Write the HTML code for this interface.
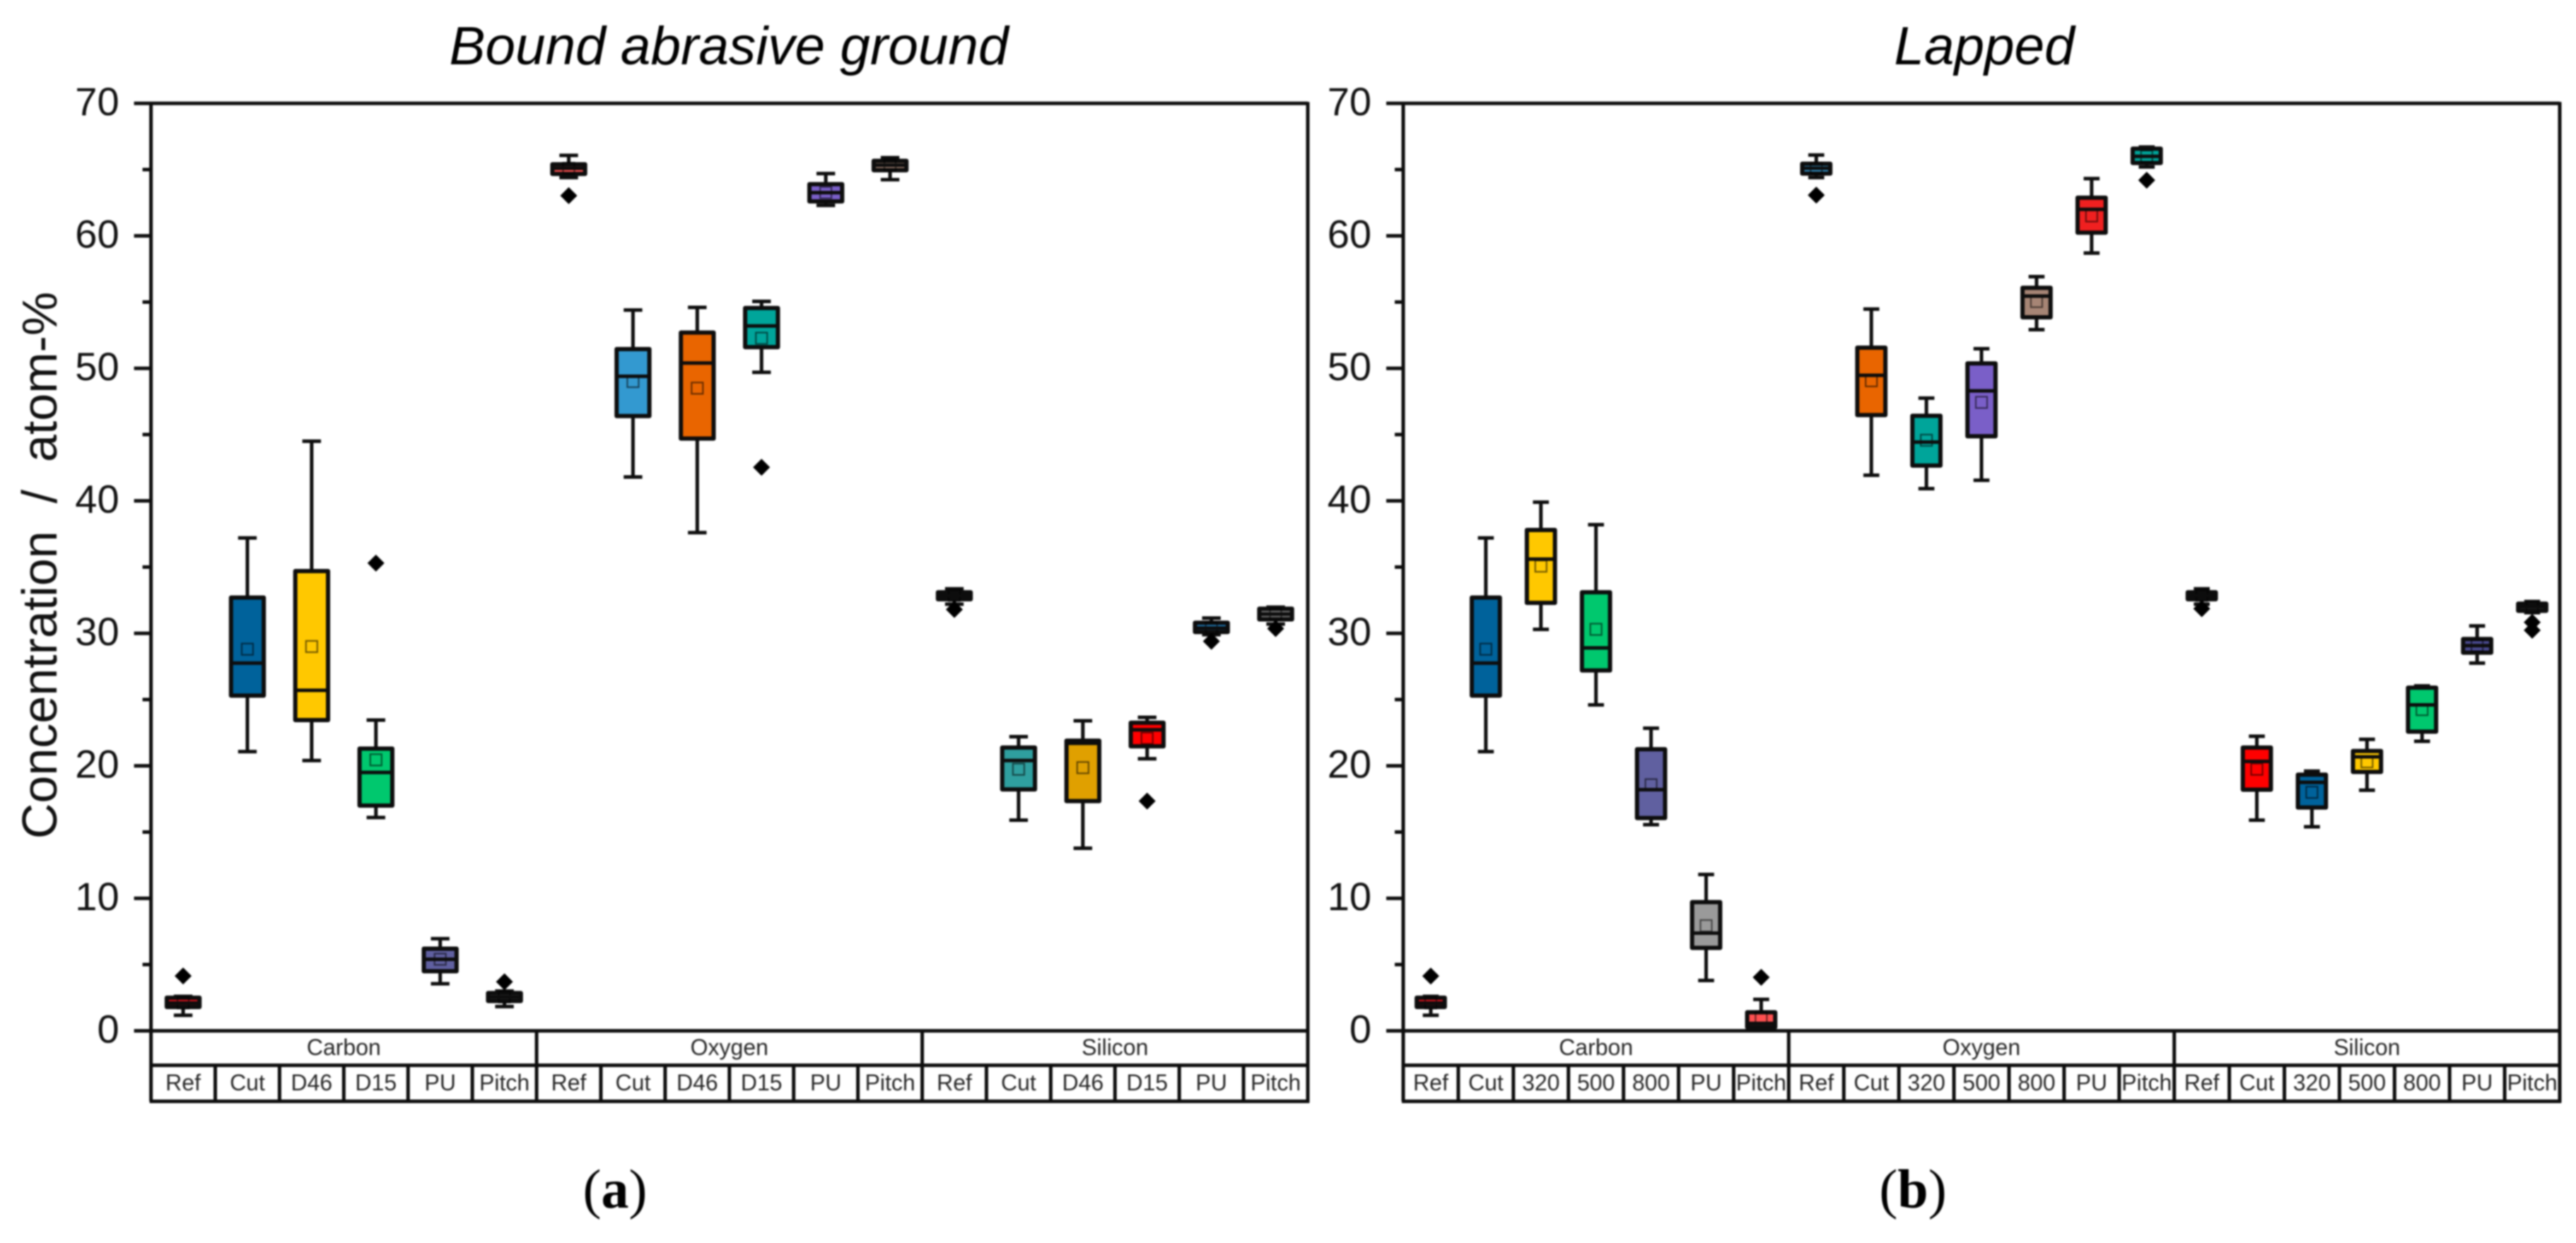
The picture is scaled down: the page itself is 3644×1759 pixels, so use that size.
<!DOCTYPE html>
<html lang="en">
<head>
<meta charset="utf-8">
<title>Concentration box plots</title>
<style>
html,body{margin:0;padding:0;background:#fff;width:3644px;height:1759px;overflow:hidden}
svg{display:block;position:absolute;left:0;top:0;filter:blur(1px)}
text{font-family:"Liberation Sans",sans-serif;fill:#111}
.tick{font-size:56px;text-anchor:end}
.cell{font-size:32px;text-anchor:middle;fill:#262626}
.title{font-size:76.5px;font-style:italic;text-anchor:middle;fill:#000}
.cap{font-family:"Liberation Serif",serif;font-size:78px;text-anchor:middle;fill:#000}
.cap tspan.b{font-weight:bold}
.ytitle{font-size:70px;white-space:pre;text-anchor:middle;fill:#111}
</style>
</head>
<body>
<svg id="figure" xmlns="http://www.w3.org/2000/svg" width="3644" height="1759" viewBox="0 0 3644 1759">
  <rect x="0" y="0" width="3644" height="1759" fill="#fff"/>
  <text class="title" x="1031" y="91">Bound abrasive ground</text>
  <text class="title" x="2807" y="91">Lapped</text>
  <text class="ytitle" transform="translate(80,800) rotate(-90)">Concentration  /  atom-%</text>
  <text class="cap" x="870" y="1709">(<tspan class="b">a</tspan>)</text>
  <text class="cap" x="2706" y="1709">(<tspan class="b">b</tspan>)</text>
  <g id="panel-a"></g>
  <g id="panel-b"></g>
</svg>
<script>
// Shared axis data
const yMajorTicks = [0, 10, 20, 30, 40, 50, 60, 70];
const yMinorTicks = [5, 15, 25, 35, 45, 55, 65];
const groupLabels = ['Carbon', 'Oxygen', 'Silicon'];

// Panel (a) bound abrasive ground
const boundCategories = ['Ref','Cut','D46','D15','PU','Pitch','Ref','Cut','D46','D15','PU','Pitch','Ref','Cut','D46','D15','PU','Pitch'];
const boundLow    = [1.17,21.07,20.4,16.1,3.55,1.83, 64.4,41.8,37.6,49.7,62.3,64.24, 32.2,15.9,13.78,20.53,29.9,30.7];
const boundQ1     = [1.8,25.3,23.45,17.0,4.5,2.25, 64.67,46.4,44.7,51.6,62.6,64.95, 32.57,18.22,17.34,21.47,30.1,31.05];
const boundMedian = [2.1,27.75,25.7,19.5,5.4,2.55, 65.1,49.4,50.4,53.2,63.26,65.33, 32.85,20.4,21.7,22.72,30.4,31.45];
const boundQ3     = [2.5,32.7,34.7,21.3,6.2,2.85, 65.4,51.45,52.7,54.55,63.9,65.66, 33.1,21.38,21.9,23.25,30.8,31.86];
const boundHigh   = [2.6,37.2,44.5,23.45,6.95,3.0, 66.07,54.4,54.6,55.05,64.7,65.9, 33.36,22.2,23.4,23.66,31.15,31.97];
const boundMean   = [2.1,28.8,29.0,20.45,5.4,2.55, 65.1,49.0,48.5,52.27,63.26,65.33, 32.85,19.74,19.86,22.08,30.4,31.45];
const boundOutliers = [[4.14],[],[],[35.3],[],[3.7], [63.03],[],[],[42.53],[],[], [31.8],[],[],[17.34],[29.4],[30.36]];
const boundFills = ['#e8101c','#00629b','#ffc800','#00c86e','#6060a0','#808080','#ff5050','#3399d0','#e96500','#00a59a','#7a5fc8','#a08070','#909090','#2f9f9f','#e0a000','#ff0000','#1f78b4','#707070'];

// Panel (b) lapped
const lappedCategories = ['Ref','Cut','320','500','800','PU','Pitch','Ref','Cut','320','500','800','PU','Pitch','Ref','Cut','320','500','800','PU','Pitch'];
const lappedLow    = [1.17,21.07,30.3,24.6,15.56,3.8,0.15, 64.4,41.93,40.92,41.55,52.92,58.7,65.2, 32.2,15.9,15.4,18.16,21.85,27.75,31.56];
const lappedQ1     = [1.8,25.3,32.3,27.2,16.06,6.26,0.27, 64.7,46.47,42.66,44.87,53.85,60.24,65.5, 32.57,18.2,16.85,19.54,22.58,28.54,31.7];
const lappedMedian = [2.1,27.75,35.6,28.9,18.2,7.37,0.56, 65.1,49.47,44.43,48.3,55.45,62.0,66.0, 32.85,20.33,18.75,20.68,24.6,29.07,32.0];
const lappedQ3     = [2.5,32.7,37.8,33.1,21.25,9.71,1.4, 65.44,51.56,46.42,50.37,56.08,62.88,66.58, 33.1,21.38,19.33,21.12,25.9,29.57,32.24];
const lappedHigh   = [2.6,37.2,39.9,38.2,22.84,11.8,2.37, 66.1,54.47,47.75,51.48,56.92,64.32,66.7, 33.36,22.23,19.6,22.0,26.03,30.56,32.4];
const lappedMean   = [2.1,28.8,35.07,30.3,18.57,7.93,1.0, 65.1,49.06,44.57,47.43,55.04,61.5,66.0, 32.85,19.74,18.0,20.3,24.24,29.07,32.0];
const lappedOutliers = [[4.13],[],[],[],[],[],[4.04], [63.07],[],[],[],[],[],[64.2], [31.86],[],[],[],[],[],[30.83,30.23]];
const lappedFills = ['#e8101c','#00629b','#ffc800','#00c86e','#6060a0','#9a9a9a','#ff5050','#3399d0','#e96500','#00a59a','#7a5fc8','#a68575','#f02020','#00a59a','#808080','#ff0000','#00629b','#ffc800','#00c86e','#4a4a90','#707070'];

const NS = 'http://www.w3.org/2000/svg';
const LINE = 5;
const BOX_LINE = 6;
const Y_ZERO = 1458.7;
const Y_PER_UNIT = 18.75;
const ROW1_BOTTOM = 1507.5;
const ROW2_BOTTOM = 1558.5;

function yScale(v) { return Y_ZERO - v * Y_PER_UNIT; }

function make(tag, attrs, parent) {
  const el = document.createElementNS(NS, tag);
  for (const k in attrs) el.setAttribute(k, attrs[k]);
  parent.appendChild(el);
  return el;
}

function seg(parent, x1, y1, x2, y2, w) {
  return make('line', {x1: x1, y1: y1, x2: x2, y2: y2, stroke: '#0d0d0d', 'stroke-width': w || LINE}, parent);
}

function drawPanel(root, left, right, categories, low, q1, median, q3, high, mean, outliers, fills) {
  const step = (right - left) / categories.length;
  const xScale = i => left + (i + 0.5) * step;
  const boxW = step * 0.51;
  const capW = step * 0.29;
  const top = yScale(yMajorTicks[yMajorTicks.length - 1]);
  const perGroup = categories.length / groupLabels.length;
  let el;

  // Frame
  el = seg(root, left, top, left, ROW2_BOTTOM);
  
  
  el = seg(root, right, top - 2, right, ROW2_BOTTOM + 2);
  
  
  el = seg(root, left - 2, ROW2_BOTTOM, right + 2, ROW2_BOTTOM);
  
  
  el = seg(root, left, ROW1_BOTTOM, right, ROW1_BOTTOM);
  
  

  // Y ticks
  yMajorTicks.forEach(t => {
    el = seg(root, left - 24, yScale(t), t === 0 || t === 70 ? right : left, yScale(t));
    
    
    el = make('text', {x: left - 45, y: yScale(t) + 17, class: 'tick'}, root);
    el.textContent = String(t);
    
    
  });
  yMinorTicks.forEach(t => {
    el = seg(root, left - 12, yScale(t), left, yScale(t));
    
    
  });

  // Category table
  categories.forEach((c, i) => {
    const xEdge = left + i * step;
    if (i > 0) {
      const isGroupEdge = i % perGroup === 0;
      el = seg(root, xEdge, isGroupEdge ? Y_ZERO : ROW1_BOTTOM, xEdge, ROW2_BOTTOM);
      
      
    }
    el = make('text', {x: xScale(i), y: 1543, class: 'cell'}, root);
    el.textContent = c;
    
    
  });
  groupLabels.forEach((g, gi) => {
    el = make('text', {x: left + (gi + 0.5) * perGroup * step, y: 1493, class: 'cell'}, root);
    el.textContent = g;
    
    
  });

  // Box plots
  categories.forEach((c, i) => {
    const cx = xScale(i);
    const group = groupLabels[Math.floor(i / perGroup)].toLowerCase();
    const base = group + '-' + c.toLowerCase();

    const g = make('g', {}, root);
    
    

    el = seg(g, cx, yScale(high[i]), cx, yScale(q3[i]));
    
    
    el = seg(g, cx, yScale(q1[i]), cx, yScale(low[i]));
    
    
    el = seg(g, cx - capW / 2, yScale(high[i]), cx + capW / 2, yScale(high[i]));
    
    
    el = seg(g, cx - capW / 2, yScale(low[i]), cx + capW / 2, yScale(low[i]));
    
    

    el = make('rect', {
      x: cx - boxW / 2, y: yScale(q3[i]), width: boxW,
      height: yScale(q1[i]) - yScale(q3[i]),
      fill: fills[i], stroke: '#0d0d0d', 'stroke-width': BOX_LINE, 'stroke-linejoin': 'round'
    }, g);
    
    

    el = make('rect', {
      x: cx - 8, y: yScale(mean[i]) - 8, width: 16, height: 16,
      fill: 'none', stroke: 'rgba(0,0,0,0.55)', 'stroke-width': 2.2
    }, g);
    
    

    el = seg(g, cx - boxW / 2, yScale(median[i]), cx + boxW / 2, yScale(median[i]));
    
    

    outliers[i].forEach(v => {
      const oy = yScale(v);
      el = make('polygon', {
        points: [cx - 12, oy, cx, oy - 12, cx + 12, oy, cx, oy + 12].join(' '),
        fill: '#000'
      }, g);
      
      
    });
  });
}

drawPanel(document.getElementById('panel-a'), 213.6, 1850, boundCategories, boundLow, boundQ1, boundMedian, boundQ3, boundHigh, boundMean, boundOutliers, boundFills);
drawPanel(document.getElementById('panel-b'), 1985, 3621, lappedCategories, lappedLow, lappedQ1, lappedMedian, lappedQ3, lappedHigh, lappedMean, lappedOutliers, lappedFills);
</script>
</body>
</html>
